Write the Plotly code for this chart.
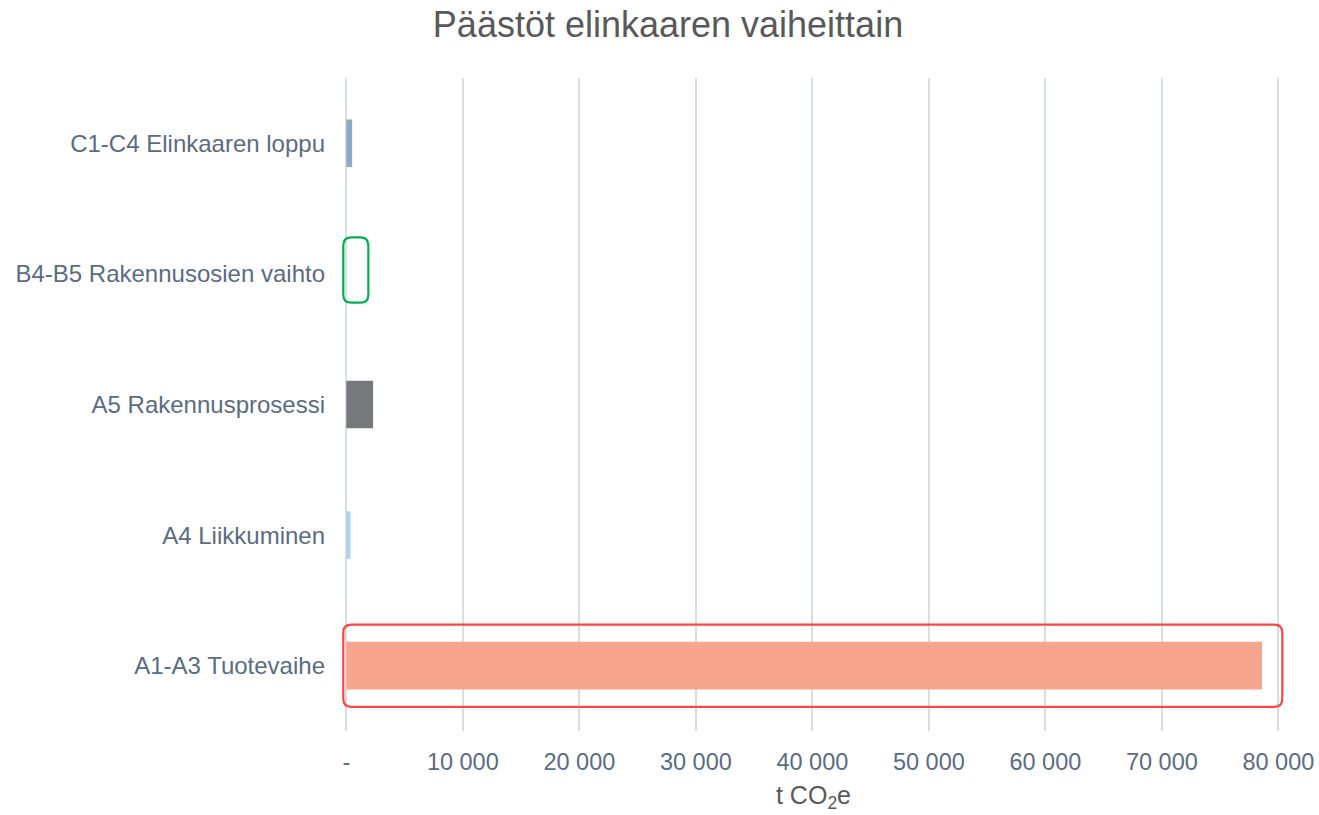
import plotly.graph_objects as go

# Life-cycle stages (bottom to top) and their emissions in t CO2e
stages = [
    "A1-A3 Tuotevaihe",
    "A4 Liikkuminen",
    "A5 Rakennusprosessi",
    "B4-B5 Rakennusosien vaihto",
    "C1-C4 Elinkaaren loppu",
]
emissions = [78600, 350, 2300, 0, 500]
bar_colors = ["#F7A58C", "#A9D3F2", "#77787B", "#FFFFFF", "#8FA8C8"]

x_ticks = [0, 10000, 20000, 30000, 40000, 50000, 60000, 70000, 80000]
x_tick_labels = ["-", "10 000", "20 000", "30 000", "40 000",
                 "50 000", "60 000", "70 000", "80 000"]

# Highlighted stages: (stage index, outline colour, half height, x extent, centre shift)
highlights = [
    (0, "#FF4444", 0.315, (-260, 80340), 0.0),
    (3, "#00B050", 0.25, (-260, 1890), 0.03),
]

X_RANGE = [-800, 81000]
Y_RANGE = [-0.5, 4.5]

W, H = 1319, 815
M_L, M_R, M_T, M_B = 337, 29, 78, 84
px_per_x = (W - M_L - M_R) / (X_RANGE[1] - X_RANGE[0])
px_per_y = (H - M_T - M_B) / (Y_RANGE[1] - Y_RANGE[0])


def rounded_rect(x0, x1, y0, y1, r_px=8):
    rx = r_px / px_per_x
    ry = r_px / px_per_y
    return (
        f"M {x0 + rx},{y0} L {x1 - rx},{y0} Q {x1},{y0} {x1},{y0 + ry} "
        f"L {x1},{y1 - ry} Q {x1},{y1} {x1 - rx},{y1} "
        f"L {x0 + rx},{y1} Q {x0},{y1} {x0},{y1 - ry} "
        f"L {x0},{y0 + ry} Q {x0},{y0} {x0 + rx},{y0} Z"
    )


positions = list(range(len(stages)))

fig = go.Figure(
    go.Bar(
        x=emissions,
        y=positions,
        orientation="h",
        marker=dict(color=bar_colors, line=dict(width=0)),
        width=0.365,
        hoverinfo="x+text",
        text=stages,
        textposition="none",
    )
)

for idx, color, half_h, (hx0, hx1), shift in highlights:
    yc = idx + shift
    fig.add_shape(
        type="path",
        xref="x",
        yref="y",
        path=rounded_rect(hx0, hx1, yc - half_h, yc + half_h),
        line=dict(color=color, width=2.2),
        fillcolor="rgba(0,0,0,0)",
        layer="above",
    )

font_family = "Liberation Sans, Arial, sans-serif"

fig.update_layout(
    width=W,
    height=H,
    margin=dict(l=M_L, r=M_R, t=M_T, b=M_B, autoexpand=False),
    paper_bgcolor="white",
    plot_bgcolor="white",
    showlegend=False,
    font=dict(family=font_family),
    title=dict(
        text="Päästöt elinkaaren vaiheittain",
        font=dict(size=36, color="#595959", family=font_family),
        x=668 / W,
        xref="container",
        xanchor="center",
        y=1 - 24 / H,
        yref="container",
        yanchor="middle",
    ),
    xaxis=dict(
        range=X_RANGE,
        tickvals=x_ticks,
        ticktext=x_tick_labels,
        showgrid=True,
        gridcolor="#D9DDE4",
        gridwidth=1.5,
        zeroline=False,
        showline=False,
        ticks="",
        automargin=False,
        ticklabelstandoff=14,
        tickfont=dict(size=23.5, color="#5B6B82"),
        title=dict(
            text="t CO<sub>2</sub>e",
            font=dict(size=25, color="#595959"),
            standoff=12,
        ),
    ),
    yaxis=dict(
        range=Y_RANGE,
        tickvals=positions,
        ticktext=stages,
        showgrid=False,
        zeroline=False,
        showline=False,
        ticks="",
        automargin=False,
        ticklabelstandoff=11,
        tickfont=dict(size=24, color="#5B6B82"),
    ),
)

fig.write_html("out.html")
